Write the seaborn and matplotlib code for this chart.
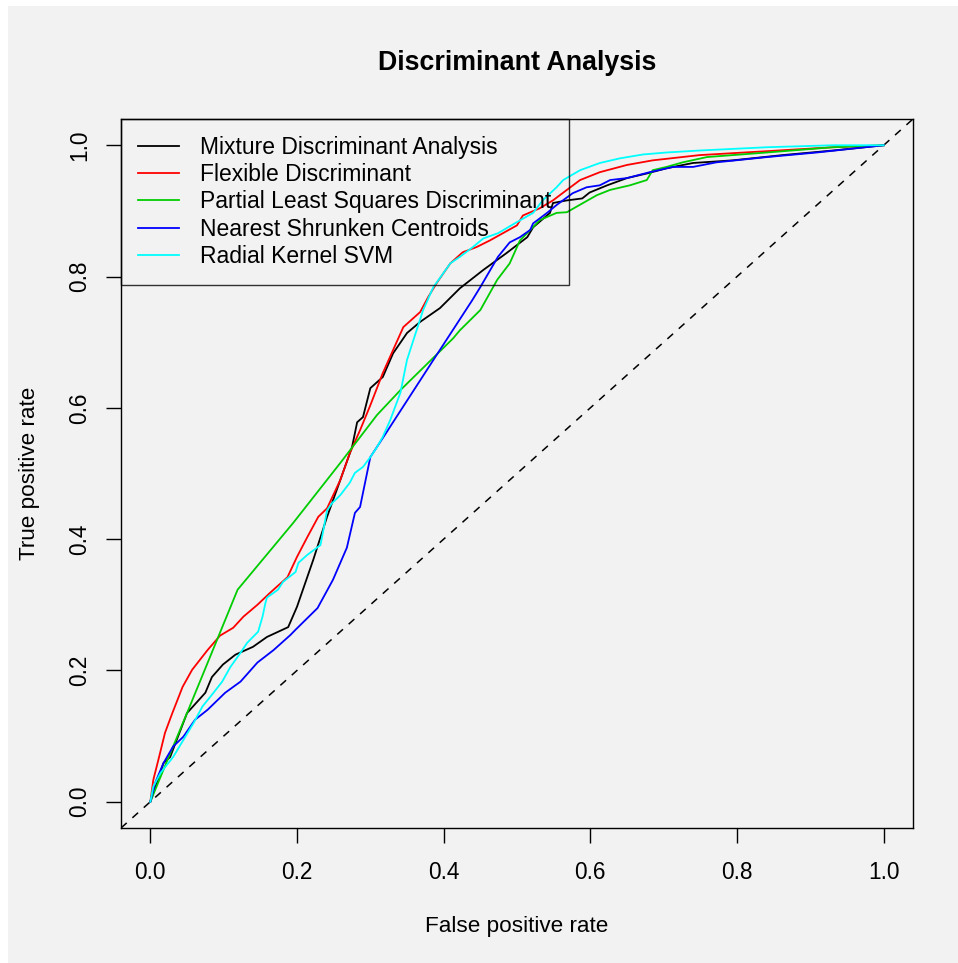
import numpy as np
import pandas as pd
import matplotlib
matplotlib.use("Agg")
import matplotlib.pyplot as plt
import seaborn as sns
from matplotlib.lines import Line2D
from matplotlib.patches import Rectangle

# ---------------- data ----------------
title = "Discriminant Analysis"
x_title = "False positive rate"
y_title = "True positive rate"

models = ["Mixture Discriminant Analysis", "Flexible Discriminant",
          "Partial Least Squares Discriminant", "Nearest Shrunken Centroids",
          "Radial Kernel SVM"]
colors = ["#000000", "#FF0000", "#00CD00", "#0000FF", "#00FFFF"]

tick_values = [0.0, 0.2, 0.4, 0.6, 0.8, 1.0]
tick_labels = ["0.0", "0.2", "0.4", "0.6", "0.8", "1.0"]

mda_fpr = [0.0, 0.018, 0.027, 0.050, 0.075, 0.084, 0.099, 0.116, 0.140, 0.159, 0.188,
           0.200, 0.222, 0.241, 0.259, 0.275, 0.282, 0.290, 0.300, 0.317, 0.331, 0.350,
           0.368, 0.395, 0.422, 0.454, 0.486, 0.514, 0.522, 0.545, 0.549, 0.568, 0.589,
           0.599, 0.623, 0.650, 0.677, 0.704, 0.740, 0.794, 0.862, 0.931, 1.0]
mda_tpr = [0.0, 0.059, 0.068, 0.135, 0.166, 0.190, 0.209, 0.224, 0.236, 0.251, 0.266,
           0.297, 0.368, 0.434, 0.490, 0.540, 0.578, 0.586, 0.630, 0.647, 0.683, 0.714,
           0.731, 0.752, 0.782, 0.810, 0.836, 0.860, 0.875, 0.897, 0.912, 0.916, 0.919,
           0.928, 0.939, 0.950, 0.957, 0.965, 0.973, 0.977, 0.985, 0.992, 1.0]

fda_fpr = [0.0, 0.004, 0.011, 0.020, 0.030, 0.044, 0.057, 0.078, 0.095, 0.113, 0.127,
           0.146, 0.163, 0.187, 0.200, 0.214, 0.229, 0.241, 0.259, 0.272, 0.286, 0.300,
           0.317, 0.331, 0.345, 0.368, 0.379, 0.391, 0.409, 0.426, 0.445, 0.463, 0.500,
           0.508, 0.531, 0.549, 0.568, 0.586, 0.613, 0.650, 0.685, 0.749, 0.841, 0.931, 1.0]
fda_tpr = [0.0, 0.033, 0.064, 0.105, 0.135, 0.175, 0.201, 0.231, 0.253, 0.265, 0.282,
           0.300, 0.318, 0.342, 0.373, 0.403, 0.434, 0.447, 0.490, 0.531, 0.566, 0.604,
           0.653, 0.688, 0.723, 0.746, 0.769, 0.791, 0.820, 0.837, 0.845, 0.855, 0.878,
           0.893, 0.904, 0.916, 0.932, 0.947, 0.959, 0.970, 0.977, 0.985, 0.991, 0.997, 1.0]

pls_fpr = [0.0, 0.018, 0.050, 0.119, 0.195, 0.259, 0.309, 0.341, 0.413,
           0.422, 0.450, 0.473, 0.490, 0.504, 0.518, 0.531, 0.554, 0.568, 0.590, 0.609,
           0.627, 0.654, 0.677, 0.685, 0.704, 0.726, 0.759, 0.841, 0.931, 1.0]
pls_tpr = [0.0, 0.049, 0.135, 0.323, 0.425, 0.516, 0.589, 0.627, 0.706,
           0.718, 0.749, 0.795, 0.820, 0.855, 0.871, 0.886, 0.897, 0.898, 0.912, 0.924,
           0.932, 0.939, 0.947, 0.962, 0.967, 0.974, 0.982, 0.989, 0.997, 1.0]

nsc_fpr = [0.0, 0.007, 0.018, 0.031, 0.045, 0.061, 0.078, 0.102, 0.123, 0.146, 0.168,
           0.191, 0.198, 0.228, 0.249, 0.268, 0.279, 0.286, 0.300, 0.317, 0.386, 0.439,
           0.450, 0.474, 0.490, 0.504, 0.518, 0.522, 0.541, 0.554, 0.576, 0.595, 0.613,
           0.627, 0.650, 0.681, 0.713, 0.740, 0.772, 0.841, 0.909, 1.0]
nsc_tpr = [0.0, 0.030, 0.059, 0.084, 0.099, 0.125, 0.140, 0.166, 0.183, 0.212, 0.231,
           0.254, 0.262, 0.295, 0.338, 0.387, 0.440, 0.449, 0.525, 0.554, 0.673, 0.764,
           0.784, 0.830, 0.852, 0.860, 0.871, 0.881, 0.897, 0.909, 0.927, 0.936, 0.939,
           0.947, 0.950, 0.959, 0.967, 0.967, 0.974, 0.982, 0.989, 1.0]

svm_fpr = [0.0, 0.004, 0.014, 0.031, 0.045, 0.059, 0.071, 0.084, 0.098, 0.109, 0.123,
           0.132, 0.147, 0.153, 0.157, 0.159, 0.174, 0.181, 0.198, 0.202, 0.214, 0.232,
           0.236, 0.241, 0.248, 0.259, 0.272, 0.279, 0.290, 0.300, 0.309, 0.317, 0.327,
           0.341, 0.350, 0.372, 0.386, 0.395, 0.409, 0.422, 0.440, 0.454, 0.474, 0.500,
           0.522, 0.535, 0.554, 0.563, 0.586, 0.613, 0.640, 0.672, 0.704, 0.749, 0.841,
           0.931, 1.0]
svm_tpr = [0.0, 0.023, 0.044, 0.068, 0.094, 0.120, 0.145, 0.163, 0.183, 0.205, 0.227,
           0.242, 0.259, 0.282, 0.303, 0.311, 0.323, 0.335, 0.350, 0.364, 0.376, 0.391,
           0.414, 0.444, 0.455, 0.467, 0.486, 0.501, 0.510, 0.525, 0.540, 0.556, 0.581,
           0.623, 0.673, 0.749, 0.784, 0.798, 0.820, 0.830, 0.845, 0.858, 0.866, 0.883,
           0.897, 0.916, 0.936, 0.947, 0.962, 0.973, 0.980, 0.986, 0.989, 0.992, 0.997,
           1.0, 1.0]

curves = [(mda_fpr, mda_tpr), (fda_fpr, fda_tpr), (pls_fpr, pls_tpr),
          (nsc_fpr, nsc_tpr), (svm_fpr, svm_tpr)]

df = pd.concat(
    [pd.DataFrame({"fpr": f, "tpr": t, "model": m})
     for m, (f, t) in zip(models, curves)],
    ignore_index=True)

# ---------------- figure ----------------
plt.rcParams["font.family"] = ["Liberation Sans", "DejaVu Sans"]
W, H = 958, 963
BG = "#f2f2f2"
fig = plt.figure(figsize=(W / 100, H / 100), dpi=100, facecolor="white")
fig.patches.append(Rectangle((8 / W, 0), (W - 8) / W, (H - 6) / H,
                             transform=fig.transFigure, facecolor=BG,
                             edgecolor="none", zorder=-10))

ax_l, ax_r, ax_t, ax_b = 121, 913, 119, 828
ax = fig.add_axes([ax_l / W, (H - ax_b) / H, (ax_r - ax_l) / W, (ax_b - ax_t) / H])
ax.set_facecolor(BG)

ax.axline((0, 0), (1, 1), color="black", lw=1.1, ls=(0, (5, 5)), zorder=1)

palette = dict(zip(models, colors))
sns.lineplot(data=df, x="fpr", y="tpr", hue="model", hue_order=models,
             palette=palette, sort=False, estimator=None, units="model",
             lw=1.3, legend=False, ax=ax, zorder=2)

ax.set_xlim(-0.04, 1.04)
ax.set_ylim(-0.04, 1.04)
ax.set_xticks(tick_values)
ax.set_xticklabels(tick_labels)
ax.set_yticks(tick_values)
ax.set_yticklabels(tick_labels, rotation=90, va="center")
ax.tick_params(axis="both", direction="out", length=10.8, width=1.0,
               color="black", labelsize=16.3, labelcolor="black")
ax.tick_params(axis="x", pad=13)
ax.tick_params(axis="y", pad=10.5)
for s in ax.spines.values():
    s.set_color("black")
    s.set_linewidth(1.0)

ax.set_xlabel(x_title, fontsize=16.2, va="center")
ax.set_ylabel(y_title, fontsize=16.2, va="center")
ax.xaxis.set_label_coords((517 - ax_l) / (ax_r - ax_l), (ax_b - 926) / (ax_b - ax_t))
ax.yaxis.set_label_coords((30 - ax_l) / (ax_r - ax_l), (ax_b - 473) / (ax_b - ax_t))
ax.set_title(title, fontsize=19.3, fontweight="bold",
             y=(ax_b - 63) / (ax_b - ax_t), va="center", pad=0)

handles = [Line2D([], [], color=c, lw=1.3) for c in colors]
leg = ax.legend(handles, models, loc="upper left", bbox_to_anchor=(0, 1),
                borderaxespad=0, frameon=True, fancybox=False, fontsize=16.5,
                handlelength=1.8, handletextpad=0.9, borderpad=0.75,
                labelspacing=0.18)
leg.get_frame().set_facecolor("none")
leg.get_frame().set_edgecolor("black")
leg.get_frame().set_linewidth(1.0)

fig.savefig("out.png", dpi=100, facecolor="white")
